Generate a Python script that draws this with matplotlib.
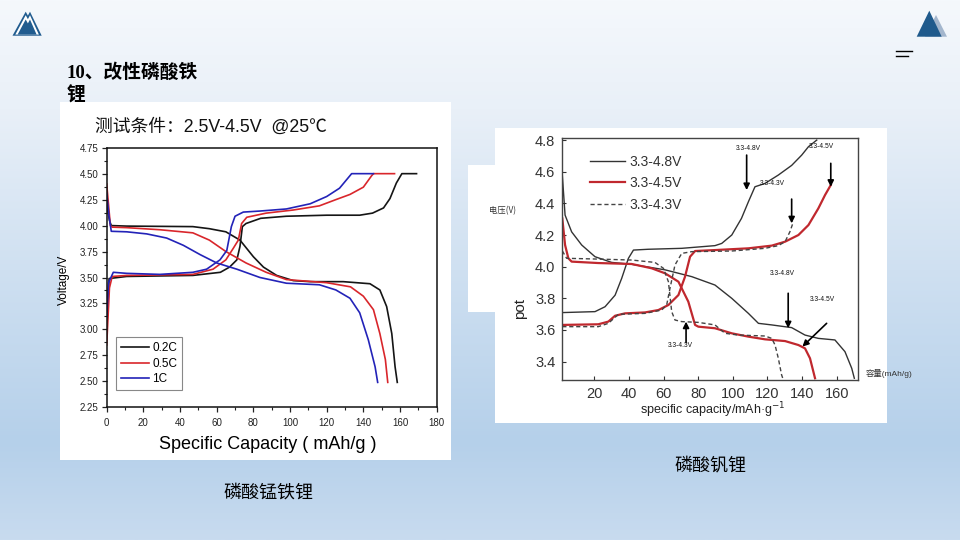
import numpy as np
import matplotlib
matplotlib.use('Agg')
import matplotlib.pyplot as plt
from matplotlib.patches import Rectangle, Polygon
from matplotlib.colors import LinearSegmentedColormap

plt.rcParams['font.family'] = ['Liberation Sans', 'Noto Sans CJK SC', 'DejaVu Sans']

W, H = 960, 540

# ---- left chart: LiMnFePO4, 2.5-4.5V @25C ----
rate_labels = ['0.2C', '0.5C', '1C']
rate_colors = ['#151515', '#d9262b', '#2323b8']

c02_chg_x = [0, 1.3, 10.9, 47, 62, 67, 71, 72.7, 74, 76, 84, 98, 120, 138, 145, 151, 154.5, 158, 161, 169]
c02_chg_y = [3.0, 3.49, 3.51, 3.52, 3.55, 3.60, 3.67, 3.80, 3.99, 4.02, 4.07, 4.09, 4.10, 4.10, 4.12, 4.17, 4.26, 4.41, 4.50, 4.50]
c02_dis_x = [0, 1.5, 2.5, 10.9, 47, 56, 65, 72.7, 80, 85.5, 92.7, 101.8, 111, 129, 143.6, 149, 152.7, 155.5, 157.3, 158.5]
c02_dis_y = [4.20, 4.05, 4.00, 3.995, 3.99, 3.97, 3.94, 3.86, 3.70, 3.60, 3.52, 3.47, 3.46, 3.46, 3.44, 3.38, 3.22, 2.96, 2.64, 2.49]

c05_chg_x = [0, 1.5, 3, 10.9, 47, 58, 65, 69, 71.8, 73.6, 76.4, 87, 101.8, 116, 125, 132.7, 140, 144.5, 145.5, 157]
c05_chg_y = [2.85, 3.40, 3.51, 3.52, 3.53, 3.58, 3.67, 3.78, 3.86, 4.02, 4.08, 4.12, 4.15, 4.19, 4.25, 4.30, 4.37, 4.48, 4.50, 4.50]
c05_dis_x = [0, 1, 2, 3, 10.9, 29, 47, 56, 65, 76, 87, 98, 120, 133, 140, 145.5, 149, 152, 153.3]
c05_dis_y = [4.40, 4.20, 4.00, 3.985, 3.98, 3.96, 3.93, 3.86, 3.75, 3.64, 3.55, 3.48, 3.45, 3.41, 3.32, 3.19, 2.96, 2.71, 2.49]

c1_chg_x = [0, 1, 3.6, 10.9, 29, 47, 54.5, 61.8, 65.5, 68, 70, 74.5, 83.6, 98, 111, 120, 127, 133.6, 145.5]
c1_chg_y = [3.12, 3.45, 3.55, 3.54, 3.53, 3.55, 3.58, 3.67, 3.76, 3.99, 4.09, 4.13, 4.14, 4.16, 4.21, 4.28, 4.36, 4.50, 4.50]
c1_dis_x = [0, 1.2, 2.5, 10.9, 21.8, 32.7, 41.8, 51, 60, 71, 83.6, 98, 116, 125, 132.7, 138, 142.7, 146.4, 147.8]
c1_dis_y = [4.31, 4.10, 3.945, 3.94, 3.92, 3.88, 3.81, 3.72, 3.64, 3.58, 3.50, 3.445, 3.43, 3.38, 3.30, 3.16, 2.90, 2.64, 2.49]

left_xticks = [0, 20, 40, 60, 80, 100, 120, 140, 160, 180]
left_yticks = [2.25, 2.50, 2.75, 3.00, 3.25, 3.50, 3.75, 4.00, 4.25, 4.50, 4.75]

# ---- right chart: Li3V2(PO4)3, three voltage windows ----
win_labels = ['3.3-4.8V', '3.3-4.5V', '3.3-4.3V']

v48_chg_x = [1.5, 20.4, 26.2, 32, 35.8, 39.7, 42.6, 51, 70.5, 89.7, 93.6, 99.4, 105, 109, 112.8, 118.6, 126.3, 134, 139.8, 143.7, 148.5]
v48_chg_y = [3.71, 3.716, 3.747, 3.82, 3.926, 4.053, 4.105, 4.11, 4.116, 4.133, 4.147, 4.2, 4.305, 4.41, 4.505, 4.526, 4.579, 4.64, 4.705, 4.758, 4.80]
v48_dis_x = [1.5, 3.1, 6.9, 12.7, 20.4, 30, 41.6, 60.9, 76.3, 89.7, 99.4, 109, 114.8, 122.5, 134, 141.7, 149.4, 159, 164.8, 168.7, 170.2]
v48_dis_y = [4.58, 4.326, 4.22, 4.137, 4.063, 4.027, 4.015, 3.98, 3.937, 3.884, 3.80, 3.705, 3.642, 3.632, 3.615, 3.568, 3.547, 3.537, 3.463, 3.358, 3.295]

v45_chg_x = [1.5, 22.3, 28.1, 32, 37.7, 49.3, 57, 62.8, 68.6, 72.4, 75.3, 78.2, 89.7, 109, 122.5, 130.2, 137.9, 143.7, 149.4, 153.3, 156.6]
v45_chg_y = [3.632, 3.636, 3.653, 3.69, 3.705, 3.711, 3.726, 3.758, 3.821, 3.937, 4.063, 4.099, 4.105, 4.116, 4.133, 4.158, 4.20, 4.263, 4.368, 4.453, 4.516]
v45_dis_x = [1.5, 3.1, 5, 6.9, 22.3, 41.6, 53.1, 60.9, 68.6, 74.3, 78.2, 80.1, 89.7, 99.4, 109, 118.6, 130.2, 137.9, 141.7, 144.6, 147.5]
v45_dis_y = [4.305, 4.137, 4.053, 4.032, 4.023, 4.017, 3.99, 3.958, 3.905, 3.779, 3.632, 3.621, 3.611, 3.579, 3.558, 3.541, 3.53, 3.505, 3.484, 3.421, 3.295]

v43_chg_x = [1.5, 22.3, 28.1, 33.9, 49.3, 58.9, 61.8, 63.7, 66.6, 70.5, 76.3, 99.4, 118.6, 126.3, 130.2, 133, 135]
v43_chg_y = [3.621, 3.621, 3.642, 3.699, 3.705, 3.726, 3.758, 3.863, 4.011, 4.084, 4.095, 4.099, 4.116, 4.133, 4.158, 4.221, 4.284]
v43_dis_x = [1.5, 4, 22.3, 41.6, 55, 59.9, 62.8, 64.7, 66.6, 70.5, 80.1, 89.7, 95.5, 103.2, 118.6, 122.5, 124.4, 126.3, 128.2, 129.2]
v43_dis_y = [4.10, 4.053, 4.048, 4.042, 4.027, 3.99, 3.905, 3.716, 3.663, 3.653, 3.648, 3.632, 3.579, 3.568, 3.562, 3.547, 3.505, 3.421, 3.316, 3.284]

right_xticks = [20, 40, 60, 80, 100, 120, 140, 160]
right_yticks = [3.4, 3.6, 3.8, 4.0, 4.2, 4.4, 4.6, 4.8]

ann_labels = ['3.3-4.8V', '3.3-4.5V', '3.3-4.3V', '3.3-4.8V', '3.3-4.5V', '3.3-4.3V']
ann_text_x = [109, 151, 123, 128.6, 151.7, 69.5]
ann_text_y = [4.747, 4.758, 4.526, 3.958, 3.794, 3.499]
arrow_x0 = [108, 156.6, 134, 132, 154.2, 73]
arrow_y0 = [4.705, 4.653, 4.427, 3.832, 3.642, 3.52]
arrow_x1 = [108, 156.6, 134, 132, 140.2, 73]
arrow_y1 = [4.484, 4.505, 4.274, 3.611, 3.495, 3.653]


def box(x0, y0, x1, y1):
    # pixel box (top-left origin) -> figure fraction rect
    return [x0 / W, 1 - y1 / H, (x1 - x0) / W, (y1 - y0) / H]


fig = plt.figure(figsize=(9.6, 5.4), dpi=100)

# slide background
bg = fig.add_axes([0, 0, 1, 1])
bg.set_xlim(0, W)
bg.set_ylim(H, 0)
bg.axis('off')
cmap = LinearSegmentedColormap.from_list('slide', [(0, '#f5f8fc'), (0.2, '#e9f0f8'), (0.5, '#cfe0f1'),
                                                   (0.82, '#b5d0ea'), (1.0, '#c8dbef')])
bg.imshow(np.linspace(0, 1, 256).reshape(-1, 1), aspect='auto', cmap=cmap, extent=[0, W, H, 0], zorder=0)

# white picture panels
bg.add_patch(Rectangle((60, 102), 391, 358, fc='white', ec='none', zorder=1))
bg.add_patch(Rectangle((495, 128), 392, 295, fc='white', ec='none', zorder=1))
bg.add_patch(Rectangle((468, 165), 27, 147, fc='white', ec='none', zorder=1))

# logos
blue = '#215c8f'
bg.add_patch(Polygon([(12.5, 35.7), (25.7, 11.7), (27.9, 15.6), (30, 11.7), (41.7, 35.7)],
                     closed=True, fc=blue, ec='none', zorder=2))
bg.add_patch(Polygon([(15.3, 34.6), (25.7, 15.2), (27.9, 19.2), (30, 15.2), (38.9, 34.6)],
                     closed=True, fc='white', ec='none', zorder=2))
bg.add_patch(Polygon([(17.6, 34.6), (25.7, 19.5), (27.9, 23.4), (30, 19.5), (36.6, 34.6)],
                     closed=True, fc=blue, ec='none', zorder=2))
bg.add_patch(Polygon([(925, 36.7), (936, 15), (947, 36.7)], closed=True, fc='#a3b6cd', ec='none', zorder=2))
bg.add_patch(Polygon([(916.7, 36.7), (929.3, 10.7), (941.7, 36.7)], closed=True, fc='#1f5a8c', ec='none', zorder=2))
bg.plot([896, 912], [50.7, 50.7], color='black', lw=1, zorder=2)
bg.plot([896, 908], [56, 56], color='black', lw=1, zorder=2)

# slide texts
bg.text(67, 63, '10、改性磷酸铁\n锂', ha='left', va='top', fontsize=13.5, fontweight='bold',
        family=['Liberation Serif', 'Noto Sans CJK SC'], linespacing=1.32, zorder=3)
bg.text(268, 493, '磷酸锰铁锂', ha='center', va='center', fontsize=13, family=['Noto Sans CJK SC'], zorder=3)
bg.text(710, 465, '磷酸钒锂', ha='center', va='center', fontsize=13, family=['Noto Sans CJK SC'], zorder=3)
bg.text(95, 127, '测试条件：2.5V-4.5V  @25℃', ha='left', va='center', fontsize=12.8, color='#111', zorder=3)
bg.text(503, 211, '电压(V)', ha='center', va='center', fontsize=6, color='#333',
        family=['Noto Sans CJK SC'], zorder=3)
bg.text(866, 373, '容量(mAh/g)', ha='left', va='center', fontsize=6, color='#333', zorder=3)

# ---- left chart ----
ax1 = fig.add_axes(box(106.7, 147.7, 436.7, 407.3))
ax1.plot(c02_chg_x, c02_chg_y, color=rate_colors[0], lw=1.2, label=rate_labels[0])
ax1.plot(c02_dis_x, c02_dis_y, color=rate_colors[0], lw=1.2)
ax1.plot(c05_chg_x, c05_chg_y, color=rate_colors[1], lw=1.2, label=rate_labels[1])
ax1.plot(c05_dis_x, c05_dis_y, color=rate_colors[1], lw=1.2)
ax1.plot(c1_chg_x, c1_chg_y, color=rate_colors[2], lw=1.2, label=rate_labels[2])
ax1.plot(c1_dis_x, c1_dis_y, color=rate_colors[2], lw=1.2)
ax1.set_xlim(0, 180)
ax1.set_ylim(2.25, 4.75)
ax1.set_xticks(left_xticks)
ax1.set_yticks(left_yticks)
ax1.set_yticklabels(['%.2f' % v for v in left_yticks])
ax1.set_xticks(np.arange(10, 180, 20), minor=True)
ax1.set_yticks(np.arange(2.375, 4.75, 0.25), minor=True)
ax1.tick_params(which='major', direction='out', length=3.5, width=0.9, labelsize=7, pad=2.5, colors='#222')
ax1.tick_params(axis='x', which='major', pad=4)
ax1.tick_params(which='minor', direction='out', length=2, width=0.8, colors='#222')
for s in ax1.spines.values():
    s.set_linewidth(1.1)
    s.set_color('#111')
ax1.set_xlabel('Specific Capacity ( mAh/g )', fontsize=13, va='center')
ax1.xaxis.set_label_coords(0.487, -0.145)
ax1.set_ylabel('Voltage/V', fontsize=8.5, va='center')
ax1.yaxis.set_label_coords(-0.13, 0.49)
leg1 = ax1.legend(loc='lower left', bbox_to_anchor=(0.028, 0.067), borderaxespad=0, fontsize=8.5,
                  handlelength=2.4, handletextpad=0.3, labelspacing=0.3, borderpad=0.4,
                  fancybox=False, framealpha=1)
leg1.get_frame().set_edgecolor('#888')
leg1.get_frame().set_linewidth(0.8)

# ---- right chart ----
ax2 = fig.add_axes(box(562.3, 137.7, 858.3, 380))
ax2.plot(v48_chg_x, v48_chg_y, color='#333', lw=1.0, label=win_labels[0])
ax2.plot(v48_dis_x, v48_dis_y, color='#333', lw=1.0)
ax2.plot(v45_chg_x, v45_chg_y, color='#c0282e', lw=1.6, label=win_labels[1])
ax2.plot(v45_dis_x, v45_dis_y, color='#c0282e', lw=1.6)
ax2.plot(v43_chg_x, v43_chg_y, color='#444', lw=1.0, ls=(0, (3, 2)), label=win_labels[2])
ax2.plot(v43_dis_x, v43_dis_y, color='#444', lw=1.0, ls=(0, (3, 2)))
ax2.set_xlim(1.5, 172.5)
ax2.set_ylim(3.284, 4.815)
ax2.set_xticks(right_xticks)
ax2.set_yticks(right_yticks)
ax2.set_yticklabels(['%.1f' % v for v in right_yticks])
ax2.tick_params(direction='in', length=3, width=0.8, labelsize=10.5, pad=5, colors='#333')
for s in ax2.spines.values():
    s.set_linewidth(1.0)
    s.set_color('#444')
ax2.set_xlabel('specific capacity/mAh·g$^{-1}$', fontsize=9, va='center', color='#222')
ax2.xaxis.set_label_coords(0.509, -0.124)
ax2.set_ylabel('pot', fontsize=11, va='center', color='#222')
ax2.yaxis.set_label_coords(-0.143, 0.297)
ax2.legend(loc='upper left', bbox_to_anchor=(0.075, 0.953), borderaxespad=0, frameon=False,
           fontsize=10, handlelength=2.5, handletextpad=0.35, labelspacing=0.55, borderpad=0.4,
           labelcolor='#333')

for i in range(len(ann_labels)):
    ax2.annotate('', xy=(arrow_x1[i], arrow_y1[i]), xytext=(arrow_x0[i], arrow_y0[i]),
                 arrowprops=dict(arrowstyle='-|>', color='black', lw=1.2, mutation_scale=9,
                                 shrinkA=0, shrinkB=0))
    ax2.text(ann_text_x[i], ann_text_y[i], ann_labels[i], ha='center', va='center', fontsize=4.8,
             color='#111', clip_on=False)

fig.savefig('out.png', dpi=100)
